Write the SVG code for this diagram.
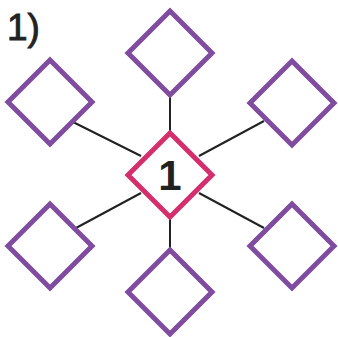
<svg xmlns="http://www.w3.org/2000/svg" width="338" height="337" viewBox="0 0 338 337">
<style>
.sat{fill:#fff;stroke:#7f4c9f;stroke-width:5;stroke-linejoin:miter}
.ctr{fill:#fff;stroke:#d42e6c;stroke-width:5}
.ln{stroke:#222;stroke-width:2;fill:none}
.t{fill:#222}
</style>
<rect width="338" height="337" fill="#fff"/>
<text class="t" x="7" y="40" font-size="37" font-family="'Liberation Sans', Arial, sans-serif" stroke="#222" stroke-width="0.9">1)</text>
<g id="connectors">
<line class="ln" x1="170" y1="96" x2="170" y2="133"/>
<line class="ln" x1="170" y1="218" x2="170" y2="249"/>
<line class="ln" x1="73" y1="122" x2="141" y2="156"/>
<line class="ln" x1="199" y1="156" x2="264" y2="121"/>
<line class="ln" x1="76" y1="228" x2="141" y2="193"/>
<line class="ln" x1="199" y1="193" x2="264" y2="228"/>
</g>
<g id="n_top"><polygon class="sat" points="170,11 212,53 170,95 128,53"/></g>
<g id="n_tl"><polygon class="sat" points="50,60 92,102 50,144 8,102"/></g>
<g id="n_tr"><polygon class="sat" points="292,61 334,103 292,145 250,103"/></g>
<g id="n_bl"><polygon class="sat" points="50,204 92,246 50,288 8,246"/></g>
<g id="n_br"><polygon class="sat" points="292,204 334,246 292,288 250,246"/></g>
<g id="n_bottom"><polygon class="sat" points="170,250 212,292 170,334 128,292"/></g>
<g id="n_center"><polygon class="ctr" points="170,133 212,175 170,217 128,175"/>
<text class="t" x="170" y="190" font-size="42" font-weight="bold" text-anchor="middle" font-family="'Liberation Sans', Arial, sans-serif">1</text></g>
</svg>
